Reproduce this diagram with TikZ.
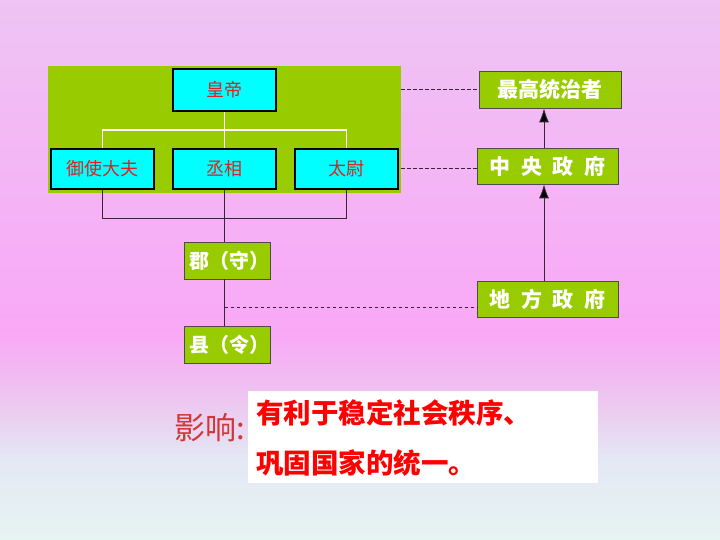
\documentclass[tikz,border=0pt]{standalone}
\usepackage{fontspec}
\newfontfamily\cjk{Noto Sans CJK SC}
\usetikzlibrary{arrows.meta}
\definecolor{bgtop}{HTML}{EEC4F4}
\definecolor{bgpink}{HTML}{F9A8F6}
\definecolor{bglav}{HTML}{EDC6F0}
\definecolor{bgblue}{HTML}{E4E8F4}
\definecolor{bgbot}{HTML}{E6F4F2}
\definecolor{leaf}{HTML}{99CC00}
\definecolor{cyanbox}{HTML}{00FFFF}
\definecolor{linec}{HTML}{3A2238}
\definecolor{redtxt}{HTML}{E02020}
\definecolor{effred}{HTML}{D03838}
\pgfdeclareverticalshading{bg}{100bp}{color(0bp)=(bgbot); color(25bp)=(bgbot); color(32.4bp)=(bgblue); color(38bp)=(bglav); color(44.2bp)=(bgpink); color(75bp)=(bgtop); color(100bp)=(bgtop)}
\tikzset{
  office/.style={draw=black, line width=1.6pt, fill=cyanbox, minimum width=103pt, inner sep=0pt,
    font=\cjk\fontsize{18}{18}\selectfont, text=redtxt},
  greenbox/.style={draw=black!70, line width=0.8pt, fill=leaf, inner sep=0pt,
    font=\cjk\bfseries\fontsize{21}{21}\selectfont, text=white},
  conn/.style={draw=linec, line width=0.9pt},
  wconn/.style={draw=white, line width=1.4pt},
  dconn/.style={draw=linec, line width=0.9pt, dash pattern=on 3.5pt off 2.5pt},
  uparrow/.style={conn, -{Latex[length=14pt,width=10pt,fill=black]}},
}
\begin{document}
\begin{tikzpicture}[x=1pt,y=-1pt]
\useasboundingbox (0,0) rectangle (720,540);
\shade[shading=bg] (0,0) rectangle (720,540);
% panel
\node[fill=leaf, minimum width=353pt, minimum height=127pt, inner sep=0pt] (panel) at (224.5,129.5) {};
\node[office, minimum height=42pt] (emperor) at (224.5,90) {皇帝};
\node[office, minimum height=40pt] (yushi) at (102.5,169) {御使大夫};
\node[office, minimum height=40pt] (cx) at (224.5,169) {丞相};
\node[office, minimum height=40pt] (taiwei) at (346.5,169) {太尉};
% white tree
\draw[wconn] (emperor.south) -- (cx.north);
\coordinate (wj) at (224.5,130);
\draw[wconn] (yushi.north) -- (yushi.north |- wj) -- (taiwei.north |- wj) -- (taiwei.north);
% local
\node[greenbox, font=\cjk\bfseries\fontsize{20}{20}\selectfont, minimum width=86pt, minimum height=37pt, text width=86pt, align=left] (jun) at (227,260.5) {\hspace*{5pt}郡（守）};
\node[greenbox, font=\cjk\bfseries\fontsize{20}{20}\selectfont, minimum width=86pt, minimum height=37pt, text width=86pt, align=left] (xian) at (227,344.5) {\hspace*{5pt}县（令）};
\coordinate (bl) at (102.5,218);
\draw[conn] (yushi.south) -- (yushi.south |- bl) -- (taiwei.south |- bl) -- (taiwei.south);
\draw[conn] (cx.south) -- (cx.south |- jun.north);
\draw[conn] (cx.south |- jun.south) -- (cx.south |- xian.north);
% right column
\node[greenbox, minimum width=142pt, minimum height=37pt] (zuigao) at (550,89.5) {最高统治者};
\node[greenbox, minimum width=141pt, minimum height=36pt] (zhong) at (547.5,166) {中\,\,\,央\,\,\,政\,\,\,府};
\node[greenbox, minimum width=141pt, minimum height=36pt] (difang) at (547.5,299) {地\,\,\,方\,\,\,政\,\,\,府};
\draw[uparrow] ([xshift=-3.5pt]zhong.north) -- ([xshift=-3.5pt]zhong.north |- zuigao.south);
\draw[uparrow] ([xshift=-3.5pt]difang.north) -- ([xshift=-3.5pt]difang.north |- zhong.south);
% dashed links
\draw[dconn] (panel.east |- zuigao) -- (zuigao.west);
\draw[dconn] ([yshift=-2pt]panel.east |- zhong) -- ([yshift=-2pt]zhong.west);
\coordinate (dj) at (224.5,307);
\draw[dconn] (dj) -- (difang.west |- dj);
% effect
\node[fill=white, minimum width=350pt, minimum height=92pt, inner sep=0pt] (effbox) at (423,437) {};
\node[anchor=east, font=\cjk\fontsize{31}{31}\selectfont, text=effred, inner sep=0pt] (eff) at (245,428) {影响:};
\node[anchor=west, font=\cjk\bfseries\fontsize{27.5}{27.5}\selectfont, text=red, inner sep=0pt] (l1) at (256,413) {有利于稳定社会秩序、};
\node[anchor=west, font=\cjk\bfseries\fontsize{27.5}{27.5}\selectfont, text=red, inner sep=0pt] (l2) at (256,463) {巩固国家的统一。};
\end{tikzpicture}
\end{document}
